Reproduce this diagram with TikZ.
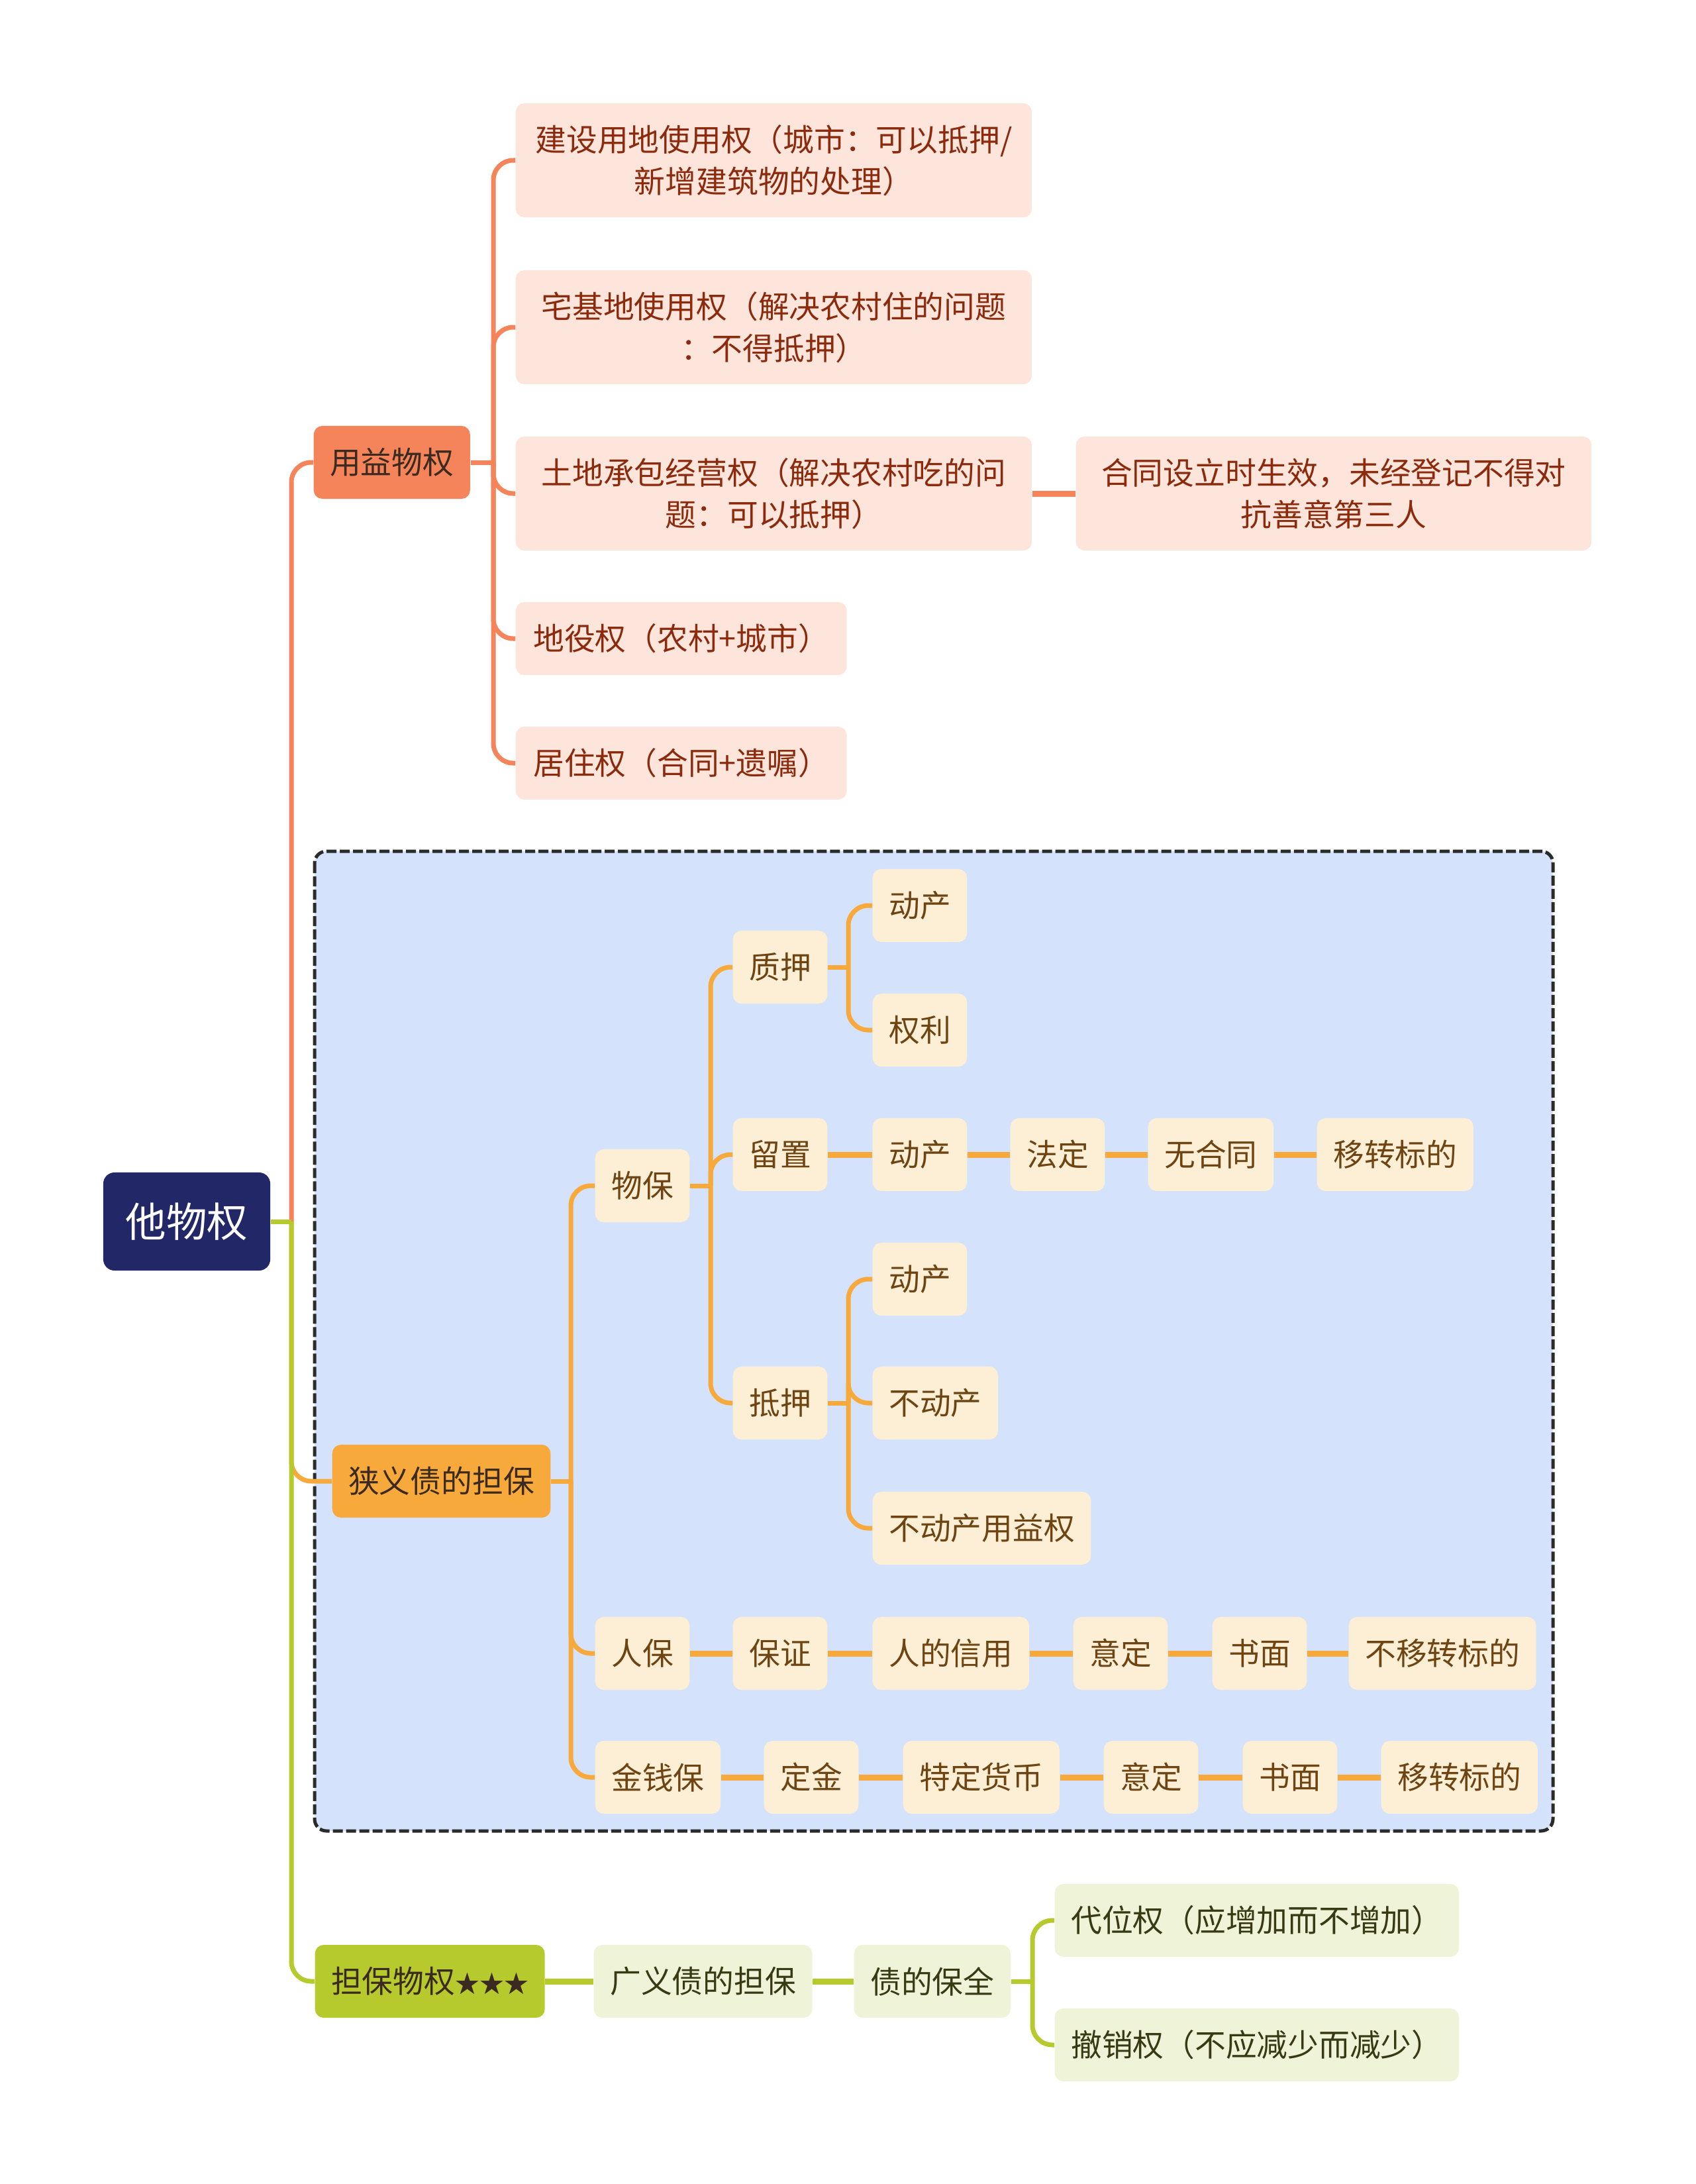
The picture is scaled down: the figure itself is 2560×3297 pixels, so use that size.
\documentclass[tikz,border=0pt]{standalone}
\usepackage{fontspec}
\newfontfamily\cjk{Noto Sans CJK SC}
\usetikzlibrary{positioning}

\definecolor{cNavy}{HTML}{212767}
\definecolor{cCoral}{HTML}{F5845A}
\definecolor{cAmber}{HTML}{F8A93B}
\definecolor{cLime}{HTML}{B7CA2D}
\definecolor{cPeach}{HTML}{FDE5DB}
\definecolor{cCream}{HTML}{FDEFD6}
\definecolor{cPale}{HTML}{EFF3D7}
\definecolor{cBlue}{HTML}{D4E3FB}
\definecolor{cDash}{HTML}{2B2B2B}
\definecolor{cRust}{HTML}{8B2A0C}
\definecolor{cBrown}{HTML}{6E4512}
\definecolor{cOlive}{HTML}{383A14}
\definecolor{cInk}{HTML}{3A2A20}

\tikzset{
  every node/.style={font=\cjk\fontsize{13.3}{18}\selectfont},
  base/.style={rounded corners=0.13cm, inner xsep=0.245cm, minimum height=1.1cm, anchor=west, align=center},
  topic/.style={base, text=cInk},
  peachbox/.style={base, fill=cPeach, text=cRust, inner xsep=0.265cm},
  creambox/.style={base, fill=cCream, text=cBrown},
  palebox/.style={base, fill=cPale, text=cOlive},
  link/.style={line width=0.07cm, rounded corners=0.3cm},
  chain/.style={line width=0.09cm},
}

\begin{document}
\begin{tikzpicture}[x=0.01cm, y=-0.01cm]
    \useasboundingbox (0,0) rectangle (2560,3297);

    % dashed frame round the narrow sense guarantees
    \draw[fill=cBlue, draw=cDash, line width=0.05cm, dash pattern=on 0.15cm off 0.05cm, rounded corners=0.18cm] (475,1285) rectangle (2345,2764);

    \node[fill=cNavy, text=white, rounded corners=0.17cm, minimum width=2.52cm, minimum height=1.48cm, font=\cjk\fontsize{17.5}{20}\selectfont] (root) at (282,1844) {他物权};

    % main branches
    \node[topic, fill=cCoral] (yy) at (473,698) {用益物权};
    \node[topic, fill=cAmber] (xy) at (501,2236) {狭义债的担保};
    \node[topic, fill=cLime] (db) at (475,2991) {担保物权{\fontsize{10.5}{18}\selectfont ★★★}};

    % usufruct
    \node[peachbox, minimum height=1.72cm, minimum width=7.79cm] (js) at (778,242) {建设用地使用权（城市：可以抵押/\\新增建筑物的处理）};
    \node[peachbox, minimum height=1.72cm, minimum width=7.79cm] (zj) at (778,494) {宅基地使用权（解决农村住的问题\\：不得抵押）};
    \node[peachbox, minimum height=1.72cm, minimum width=7.79cm] (td) at (778,745) {土地承包经营权（解决农村吃的问\\题：可以抵押）};
    \node[peachbox, minimum height=1.72cm, minimum width=7.78cm] (ht) at (1624,745) {合同设立时生效，未经登记不得对\\抗善意第三人};
    \node[peachbox] (dy) at (778,964) {地役权（农村+城市）};
    \node[peachbox] (jz) at (778,1152) {居住权（合同+遗嘱）};

    % narrow sense
    \node[creambox] (wb) at (898,1790) {物保};
    \node[creambox] (rb) at (898,2496) {人保};
    \node[creambox] (jq) at (898,2683) {金钱保};

    \node[creambox] (zy) at (1106,1460) {质押};
    \node[creambox] (lz) at (1106,1743) {留置};
    \node[creambox] (dya) at (1106,2118) {抵押};

    \node[creambox] (zy1) at (1317,1367) {动产};
    \node[creambox] (zy2) at (1317,1555) {权利};

    \node[creambox] (lz1) at (1317,1743) {动产};
    \node[creambox] (lz2) at (1525,1743) {法定};
    \node[creambox] (lz3) at (1733,1743) {无合同};
    \node[creambox] (lz4) at (1988,1743) {移转标的};

    \node[creambox] (dy1) at (1317,1931) {动产};
    \node[creambox] (dy2) at (1317,2118) {不动产};
    \node[creambox] (dy3) at (1317,2307) {不动产用益权};

    \node[creambox] (rb1) at (1106,2496) {保证};
    \node[creambox] (rb2) at (1317,2496) {人的信用};
    \node[creambox] (rb3) at (1620,2496) {意定};
    \node[creambox] (rb4) at (1830,2496) {书面};
    \node[creambox] (rb5) at (2036,2496) {不移转标的};

    \node[creambox] (jq1) at (1153,2683) {定金};
    \node[creambox] (jq2) at (1363,2683) {特定货币};
    \node[creambox] (jq3) at (1666,2683) {意定};
    \node[creambox] (jq4) at (1876,2683) {书面};
    \node[creambox] (jq5) at (2085,2683) {移转标的};

    % broad sense
    \node[palebox] (gy) at (896,2991) {广义债的担保};
    \node[palebox] (bq) at (1289,2991) {债的保全};
    \node[palebox] (dw) at (1592,2899) {代位权（应增加而不增加）};
    \node[palebox] (cx) at (1592,3087) {撤销权（不应减少而减少）};

    % junctions
    \coordinate (rootj) at (440,1844);
    \coordinate (yyj) at (745,698);
    \coordinate (xyj) at (862,2236);
    \coordinate (wbj) at (1073,1790);
    \coordinate (zyj) at (1281,1460);
    \coordinate (dyaj) at (1281,2118);
    \coordinate (bqj) at (1559,2991);

    % root links
    \draw[link, cAmber] (rootj) |- (xy.west);
    \draw[link, cCoral] (rootj) |- (yy.west);
    \draw[link, cLime] (rootj) |- (db.west);
    \draw[link, cLime] (root.east) -- (rootj);

    \draw[link, cCoral] (yy.east) -- (yyj);
    \foreach \n in {js,zj,td,dy,jz}
        \draw[link, cCoral] (yyj) |- (\n.west);
    \draw[chain, cCoral] (td) -- (ht);

    \draw[link, cAmber] (xy.east) -- (xyj);
    \foreach \n in {wb,rb,jq}
        \draw[link, cAmber] (xyj) |- (\n.west);
    \draw[link, cAmber] (wb.east) -- (wbj);
    \foreach \n in {zy,lz,dya}
        \draw[link, cAmber] (wbj) |- (\n.west);
    \draw[link, cAmber] (zy.east) -- (zyj);
    \foreach \n in {zy1,zy2}
        \draw[link, cAmber] (zyj) |- (\n.west);
    \draw[link, cAmber] (dya.east) -- (dyaj);
    \foreach \n in {dy1,dy2,dy3}
        \draw[link, cAmber] (dyaj) |- (\n.west);

    \foreach \a/\b in {lz/lz1,lz1/lz2,lz2/lz3,lz3/lz4,rb/rb1,rb1/rb2,rb2/rb3,rb3/rb4,rb4/rb5,jq/jq1,jq1/jq2,jq2/jq3,jq3/jq4,jq4/jq5}
        \draw[chain, cAmber] (\a) -- (\b);

    \draw[chain, cLime] (db) -- (gy);
    \draw[chain, cLime] (gy) -- (bq);
    \draw[link, cLime] (bq.east) -- (bqj);
    \foreach \n in {dw,cx}
        \draw[link, cLime] (bqj) |- (\n.west);
\end{tikzpicture}
\end{document}
